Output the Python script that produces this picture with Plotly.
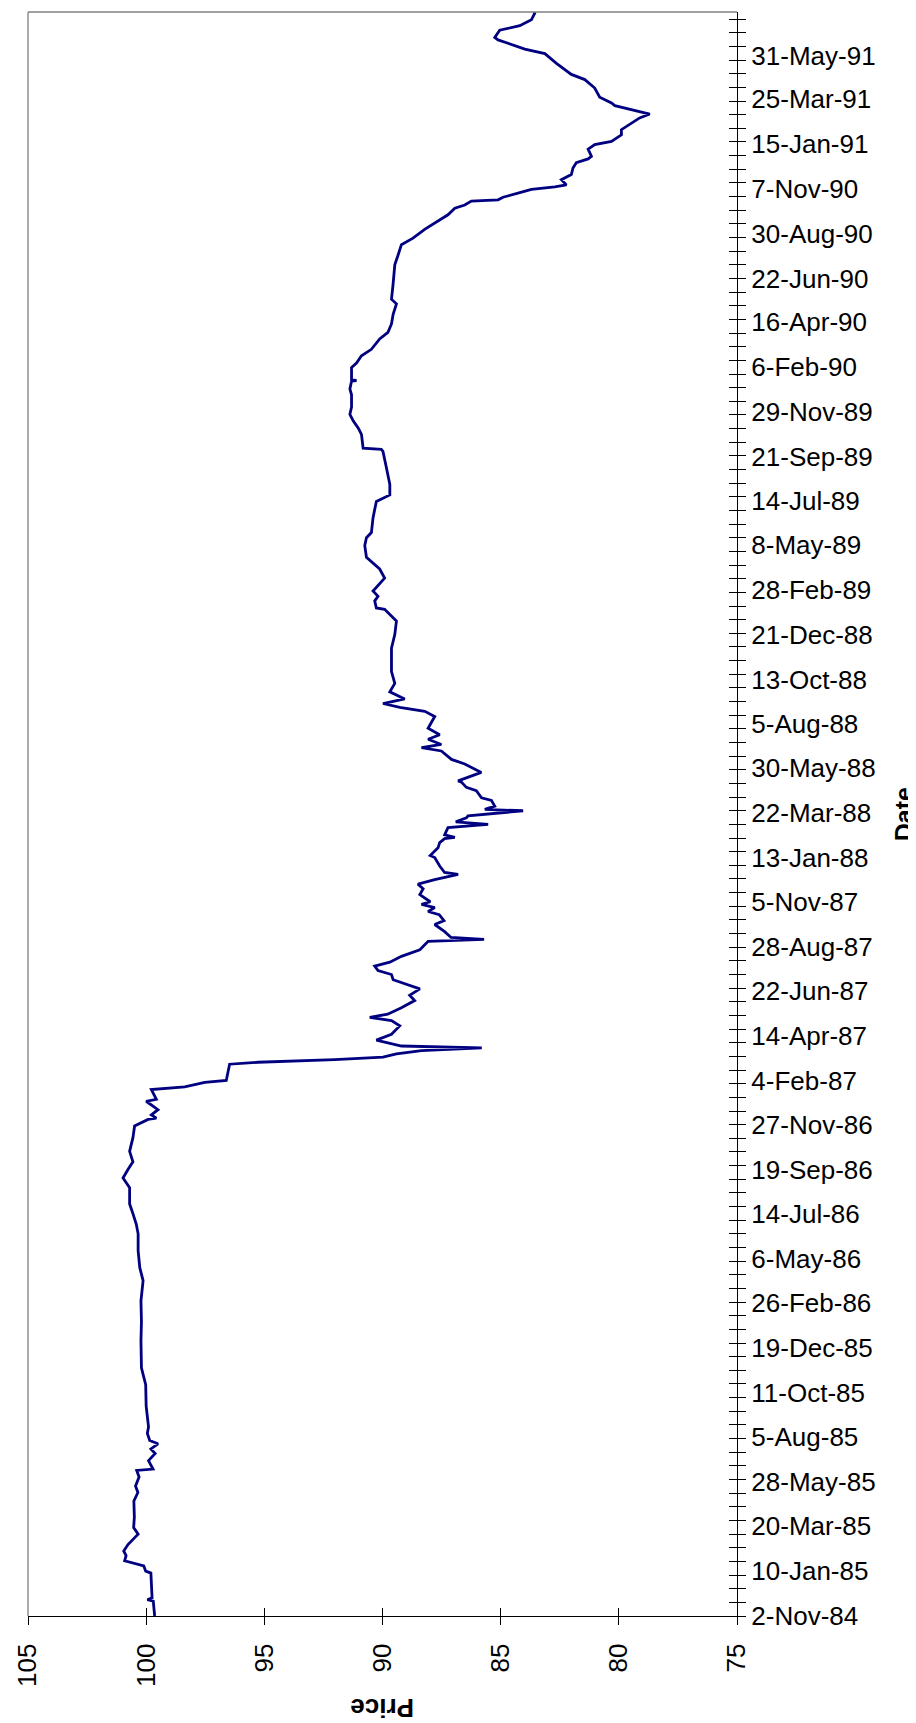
import plotly.graph_objects as go

# ---- data ----
dates = [
    "1984-11-02", "1984-11-25", "1984-11-27", "1984-11-30", "1985-01-07", "1985-01-10", "1985-01-18",
    "1985-01-26", "1985-02-03", "1985-02-10", "1985-02-20", "1985-03-08", "1985-03-18", "1985-04-03",
    "1985-04-28", "1985-05-11", "1985-05-21", "1985-06-04", "1985-06-14", "1985-06-16", "1985-06-29",
    "1985-07-10", "1985-07-17", "1985-07-25", "1985-07-30", "1985-08-10", "1985-08-20", "1985-09-21",
    "1985-10-24", "1985-11-19", "1985-12-30", "1986-01-29", "1986-03-02", "1986-04-02", "1986-04-22",
    "1986-05-18", "1986-06-13", "1986-06-28", "1986-07-14", "1986-07-29", "1986-08-23", "1986-09-07",
    "1986-09-20", "1986-10-02", "1986-10-18", "1986-11-08", "1986-11-26", "1986-12-06", "1986-12-08",
    "1986-12-13", "1986-12-21", "1987-01-03", "1987-01-06", "1987-01-21", "1987-01-25", "1987-02-01",
    "1987-02-04", "1987-03-01", "1987-03-04", "1987-03-08", "1987-03-12", "1987-03-17", "1987-03-22",
    "1987-03-26", "1987-03-29", "1987-04-07", "1987-04-16", "1987-04-29", "1987-05-07", "1987-05-12",
    "1987-05-17", "1987-05-27", "1987-06-07", "1987-06-15", "1987-06-25", "1987-07-03", "1987-07-09",
    "1987-07-17", "1987-07-23", "1987-07-30", "1987-08-05", "1987-08-14", "1987-08-19", "1987-08-24",
    "1987-09-06", "1987-09-08", "1987-09-09", "1987-09-12", "1987-09-21", "1987-10-02", "1987-10-08",
    "1987-10-17", "1987-10-22", "1987-10-28", "1987-11-02", "1987-11-06", "1987-11-17", "1987-11-26",
    "1987-12-03", "1987-12-10", "1987-12-15", "1987-12-18", "1987-12-21", "1987-12-31", "1988-01-13",
    "1988-01-16", "1988-01-28", "1988-02-05", "1988-02-11", "1988-02-13", "1988-02-17", "1988-02-28",
    "1988-03-04", "1988-03-08", "1988-03-14", "1988-03-17", "1988-03-25", "1988-03-27", "1988-04-01",
    "1988-04-10", "1988-04-14", "1988-04-25", "1988-04-30", "1988-05-08", "1988-05-10", "1988-05-18",
    "1988-05-23", "1988-06-05", "1988-06-12", "1988-06-25", "1988-06-30", "1988-07-05", "1988-07-13",
    "1988-07-20", "1988-07-30", "1988-08-17", "1988-08-25", "1988-08-31", "1988-09-06", "1988-09-13",
    "1988-09-24", "1988-10-07", "1988-10-25", "1988-11-30", "1988-12-21", "1989-01-11", "1989-01-29",
    "1989-01-31", "1989-02-11", "1989-02-18", "1989-02-26", "1989-03-18", "1989-04-01", "1989-04-19",
    "1989-05-07", "1989-05-19", "1989-05-27", "1989-06-19", "1989-07-03", "1989-07-14", "1989-07-24",
    "1989-08-09", "1989-09-03", "1989-09-29", "1989-10-02", "1989-10-04", "1989-10-25", "1989-11-04",
    "1989-11-15", "1989-11-25", "1989-12-06", "1989-12-25", "1990-01-03", "1990-01-15", "1990-01-16",
    "1990-01-17", "1990-02-05", "1990-02-12", "1990-02-23", "1990-03-05", "1990-03-21", "1990-03-31",
    "1990-04-13", "1990-04-28", "1990-05-14", "1990-05-21", "1990-06-14", "1990-07-13", "1990-07-28",
    "1990-08-13", "1990-08-23", "1990-09-06", "1990-09-28", "1990-10-08", "1990-10-13", "1990-10-19",
    "1990-10-21", "1990-10-25", "1990-11-01", "1990-11-06", "1990-11-10", "1990-11-13", "1990-11-21",
    "1990-11-29", "1990-12-09", "1990-12-17", "1990-12-23", "1990-12-27", "1991-01-07", "1991-01-14",
    "1991-01-19", "1991-01-29", "1991-02-06", "1991-02-19", "1991-02-24", "1991-03-02", "1991-03-08",
    "1991-03-15", "1991-03-19", "1991-03-28", "1991-04-11", "1991-04-24", "1991-05-02", "1991-05-09",
    "1991-05-19", "1991-06-03", "1991-06-10", "1991-06-19", "1991-06-24", "1991-06-28", "1991-07-09",
    "1991-07-16", "1991-07-25", "1991-08-04", "1991-08-06",
]

prices = [
    99.64, 99.70, 99.95, 99.75, 99.80, 100.02, 100.10,
    100.91, 100.85, 100.95, 100.77, 100.34, 100.53, 100.50,
    100.52, 100.35, 100.45, 100.30, 100.40, 99.71, 99.90,
    99.62, 99.80, 99.50, 99.85, 99.95, 99.90, 100.00,
    100.02, 100.20, 100.22, 100.20, 100.22, 100.13, 100.27,
    100.34, 100.34, 100.42, 100.56, 100.70, 100.70, 100.98,
    100.77, 100.56, 100.70, 100.56, 100.49, 99.92, 99.57,
    99.78, 99.50, 100.00, 99.57, 99.78, 98.37, 97.52,
    96.61, 96.47, 95.27, 92.02, 89.98, 89.41, 88.35,
    85.80, 89.20, 90.26, 89.62, 89.27, 89.62, 90.54,
    89.78, 89.20, 88.64, 88.85, 88.42, 89.06, 89.55,
    89.62, 90.19, 90.33, 89.69, 89.20, 88.78, 88.42,
    88.07, 86.80, 85.70, 87.10, 87.37, 87.79, 87.40,
    87.60, 88.07, 87.79, 88.35, 87.98, 88.42, 88.28,
    88.50, 87.79, 87.23, 86.80, 87.37, 87.58, 87.79,
    87.98, 87.65, 87.58, 87.37, 86.94, 87.37, 87.23,
    85.53, 86.90, 86.45, 86.38, 84.05, 85.67, 85.25,
    85.39, 85.81, 86.03, 86.45, 86.66, 86.80, 86.24,
    85.82, 86.52, 87.08, 87.51, 88.35, 87.51, 88.07,
    87.58, 88.07, 87.79, 88.21, 89.27, 89.98, 89.06,
    89.69, 89.48, 89.62, 89.62, 89.48, 89.41, 89.91,
    90.26, 90.33, 90.19, 90.40, 89.91, 90.12, 90.68,
    90.75, 90.68, 90.47, 90.40, 90.33, 90.26, 89.69,
    89.69, 89.83, 89.98, 90.05, 90.82, 90.89, 91.03,
    91.24, 91.38, 91.31, 91.31, 91.38, 91.31, 91.10,
    91.31, 91.31, 91.10, 90.89, 90.47, 90.12, 89.77,
    89.62, 89.55, 89.41, 89.62, 89.55, 89.48, 89.34,
    89.20, 88.71, 88.20, 87.23, 86.94, 86.52, 86.24,
    85.11, 84.90, 84.19, 83.70, 82.71, 82.22, 82.43,
    82.01, 81.94, 81.80, 81.30, 81.16, 81.30, 81.02,
    80.31, 79.89, 79.89, 79.33, 79.12, 78.69, 79.33,
    80.17, 80.31, 80.81, 81.02, 81.44, 82.01, 82.29,
    82.64, 83.13, 83.98, 84.69, 85.11, 85.25, 85.04,
    84.19, 83.70, 83.56, 83.60,
]

date_tick_dates = [
    "1984-11-02", "1985-01-10", "1985-03-20", "1985-05-28", "1985-08-05", "1985-10-11",
    "1985-12-19", "1986-02-26", "1986-05-06", "1986-07-14", "1986-09-19", "1986-11-27",
    "1987-02-04", "1987-04-14", "1987-06-22", "1987-08-28", "1987-11-05", "1988-01-13",
    "1988-03-22", "1988-05-30", "1988-08-05", "1988-10-13", "1988-12-21", "1989-02-28",
    "1989-05-08", "1989-07-14", "1989-09-21", "1989-11-29", "1990-02-06", "1990-04-16",
    "1990-06-22", "1990-08-30", "1990-11-07", "1991-01-15", "1991-03-25", "1991-05-31",
]
date_tick_labels = [
    "2-Nov-84", "10-Jan-85", "20-Mar-85", "28-May-85", "5-Aug-85", "11-Oct-85",
    "19-Dec-85", "26-Feb-86", "6-May-86", "14-Jul-86", "19-Sep-86", "27-Nov-86",
    "4-Feb-87", "14-Apr-87", "22-Jun-87", "28-Aug-87", "5-Nov-87", "13-Jan-88",
    "22-Mar-88", "30-May-88", "5-Aug-88", "13-Oct-88", "21-Dec-88", "28-Feb-89",
    "8-May-89", "14-Jul-89", "21-Sep-89", "29-Nov-89", "6-Feb-90", "16-Apr-90",
    "22-Jun-90", "30-Aug-90", "7-Nov-90", "15-Jan-91", "25-Mar-91", "31-May-91",
]
price_ticks = [105, 100, 95, 90, 85, 80, 75]

# ---- styling ----
FONT = "Liberation Sans, Arial, sans-serif"
DAY_MS = 86400000
minor_step = 21 * DAY_MS
date_range = [dates[0], dates[-1]]
price_range = [105, 75]

fig = go.Figure()
fig.add_trace(go.Scatter(
    x=prices, y=dates, mode="lines",
    line=dict(color="#000080", width=2.8),
    showlegend=False, hoverinfo="x+y",
))
# invisible trace so that the overlay axes (inner half of the cross ticks) are drawn
fig.add_trace(go.Scatter(
    x=prices, y=dates, mode="markers", xaxis="x2", yaxis="y2",
    marker=dict(opacity=0, size=1), showlegend=False, hoverinfo="skip",
))

fig.update_layout(
    width=916, height=1723,
    margin=dict(l=20, r=187, t=4, b=115),
    paper_bgcolor="white", plot_bgcolor="white",
    font=dict(family=FONT, size=26, color="black"),
    xaxis=dict(
        range=price_range, tickmode="array", tickvals=price_ticks,
        ticks="outside", ticklen=8, tickwidth=1.3, tickcolor="black",
        tickangle=-90, ticklabelstandoff=8,
        tickfont=dict(family=FONT, size=26, color="black"),
        showline=True, linecolor="black", linewidth=1.3,
        showgrid=False, zeroline=False, anchor="y",
    ),
    yaxis=dict(
        type="date", range=date_range, side="right",
        tickmode="array", tickvals=date_tick_dates, ticktext=date_tick_labels,
        ticks="", ticklabelstandoff=8,
        tickfont=dict(family=FONT, size=26, color="black"),
        minor=dict(ticks="outside", tick0=dates[0], dtick=minor_step,
                   ticklen=8, tickwidth=1.3, tickcolor="black", showgrid=False),
        showline=True, linecolor="black", linewidth=1.3,
        showgrid=False, zeroline=False, anchor="x",
    ),
    xaxis2=dict(
        range=price_range, overlaying="x", side="bottom", anchor="y2",
        tickmode="array", tickvals=price_ticks,
        ticks="inside", ticklen=8, tickwidth=1.3, tickcolor="black",
        showticklabels=False, showline=False, showgrid=False, zeroline=False,
    ),
    yaxis2=dict(
        type="date", range=date_range, overlaying="y", side="right", anchor="x2",
        tickmode="linear", tick0=dates[0], dtick=minor_step,
        ticks="inside", ticklen=8, tickwidth=1.3, tickcolor="black",
        showticklabels=False, showline=False, showgrid=False, zeroline=False,
    ),
    shapes=[
        dict(type="line", xref="paper", yref="paper", x0=0, x1=1, y0=1, y1=1,
             line=dict(color="#808080", width=1.3)),
        dict(type="line", xref="paper", yref="paper", x0=0, x1=0, y0=0, y1=1,
             line=dict(color="#808080", width=1.3)),
    ],
    annotations=[
        dict(text="<b>Price</b>", xref="paper", yref="paper", x=0.5, y=-0.0574,
             xanchor="center", yanchor="middle", textangle=180, showarrow=False,
             font=dict(family=FONT, size=26, color="black")),
        dict(text="<b>Date</b>", xref="paper", yref="paper", x=1.236, y=0.5,
             xanchor="center", yanchor="middle", textangle=-90, showarrow=False,
             font=dict(family=FONT, size=25, color="black")),
    ],
)

fig.write_html("out.html")
